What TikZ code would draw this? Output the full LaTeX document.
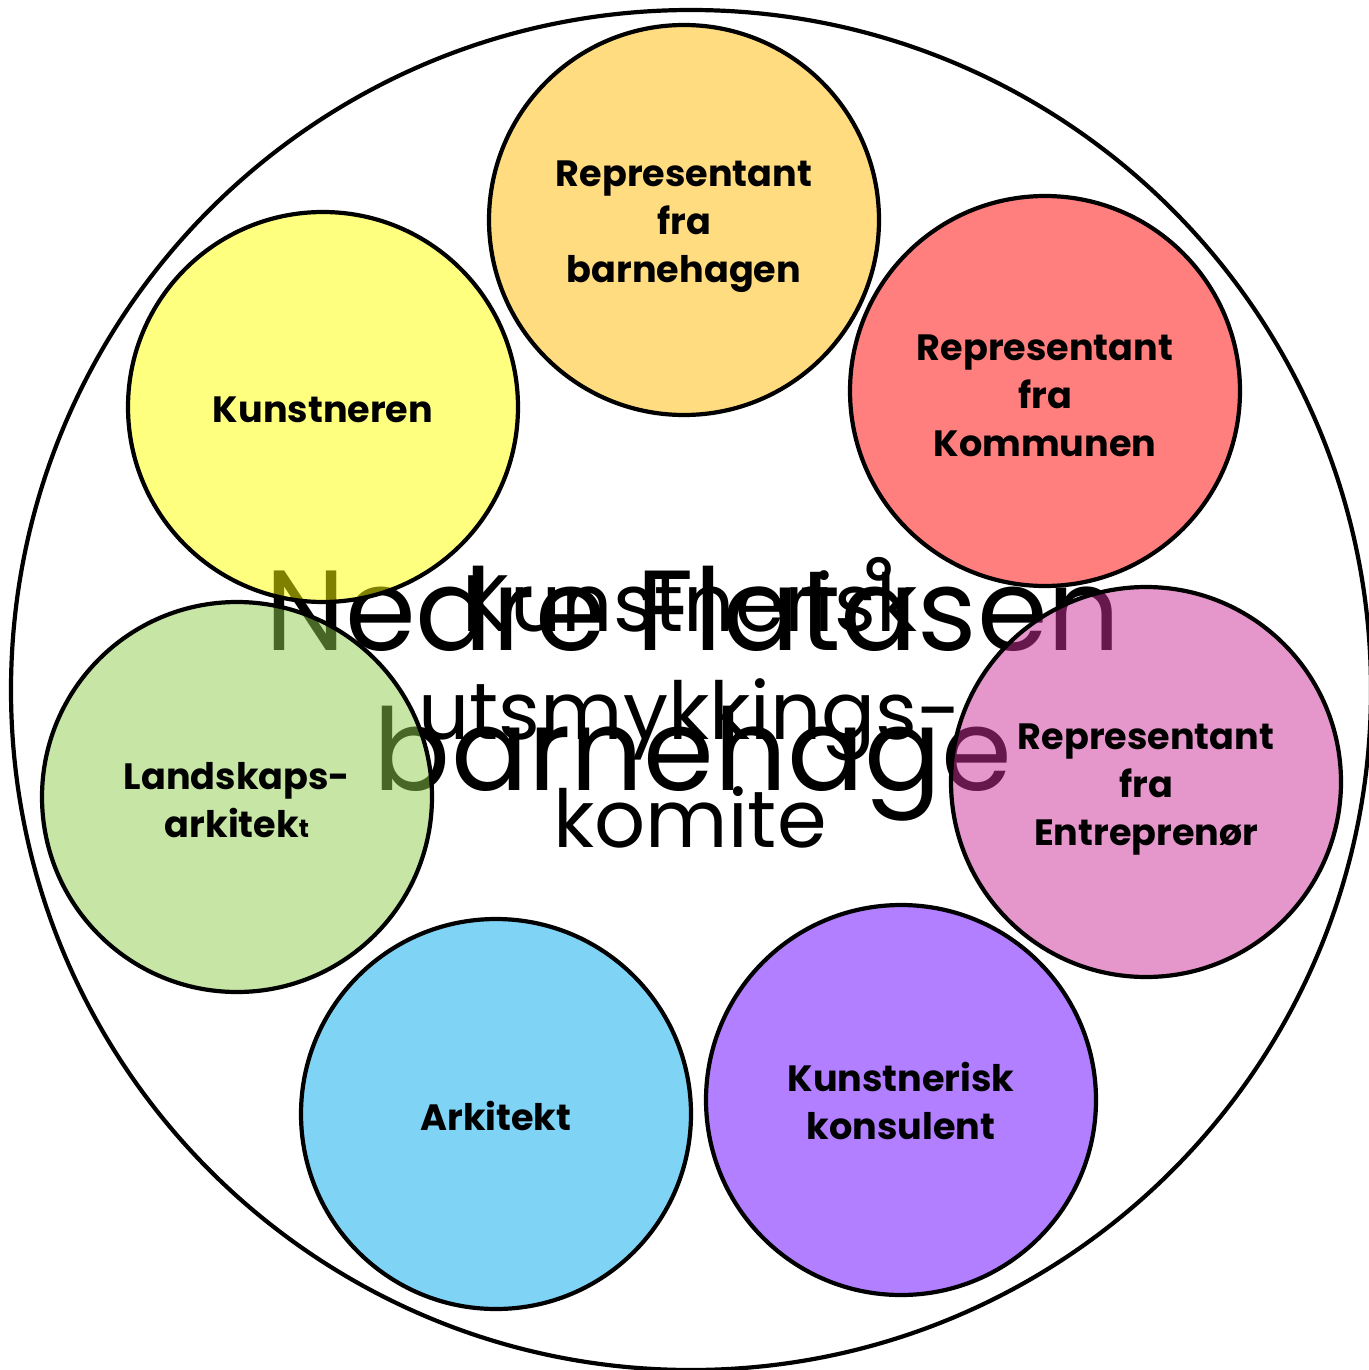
\documentclass[tikz,border=0pt]{standalone}
\usepackage{fontspec}
\setmainfont{Poppins}
\definecolor{cTop}{RGB}{255,187,1}
\definecolor{cKom}{RGB}{255,1,1}
\definecolor{cEnt}{RGB}{205,49,153}
\definecolor{cKon}{RGB}{101,1,255}
\definecolor{cArk}{RGB}{1,171,239}
\definecolor{cLan}{RGB}{145,205,77}
\definecolor{cKun}{RGB}{255,255,1}
\begin{document}
\begin{tikzpicture}[x=0.5pt,y=-0.5pt,
  member/.style={circle,draw=black,line width=2.1pt,minimum size=195pt,inner sep=0pt,
    fill opacity=0.5,draw opacity=1},
  lbl/.style={align=center,inner sep=0pt,font=\bfseries\fontsize{18.3}{24}\selectfont},
  bigtext/.style={align=center,inner sep=0pt,font=\fontsize{57}{70}\selectfont},
  midtext/.style={align=center,inner sep=0pt,font=\fontsize{40}{54}\selectfont},
  outerring/.style={circle,draw=black,line width=2.1pt,minimum size=680pt,inner sep=0pt}]
\useasboundingbox (0,0) rectangle (1369,1370);
\fill[white] (0,0) rectangle (1369,1370);
\node[bigtext,anchor=base] (school) at (693,790) {Nedre Flatåsen\\barnehage};
\node[member,fill=cTop] (barnehagen) at (684,220) {};
\node[member,fill=cKom] (kommunen) at (1045,391) {};
\node[member,fill=cEnt] (entreprenor) at (1146,782) {};
\node[member,fill=cKon] (konsulent) at (901,1100) {};
\node[member,fill=cArk] (arkitekt) at (496,1114) {};
\node[member,fill=cLan] (landskap) at (237,797) {};
\node[member,fill=cKun] (kunstneren) at (323,407) {};
\node[lbl] (barnehagen-t) at ([yshift=-3.5pt]barnehagen.center) {Representant\\fra\\barnehagen};
\node[lbl] (kommunen-t) at ([yshift=-2.5pt]kommunen.center) {Representant\\fra\\Kommunen};
\node[lbl] (entreprenor-t) at ([yshift=-4pt]entreprenor.center) {Representant\\fra\\Entreprenør};
\node[lbl] (konsulent-t) at ([yshift=-0.5pt]konsulent.center) {Kunstnerisk\\konsulent};
\node[lbl] (arkitekt-t) at ([yshift=-1pt]arkitekt.center) {Arkitekt};
\node[lbl] (landskap-t) at ([yshift=-1.5pt]landskap.center) {Landskaps-\\arkitek{\fontsize{12.5}{24}\selectfont t}};
\node[lbl] (kunstneren-t) at ([yshift=-1.5pt]kunstneren.center) {Kunstneren};
\node[midtext,anchor=base] (komite) at (690,847) {Kunstnerisk\\utsmykkings-\\komite};
\node[outerring] (outer) at (691,690) {};
\end{tikzpicture}
\end{document}
